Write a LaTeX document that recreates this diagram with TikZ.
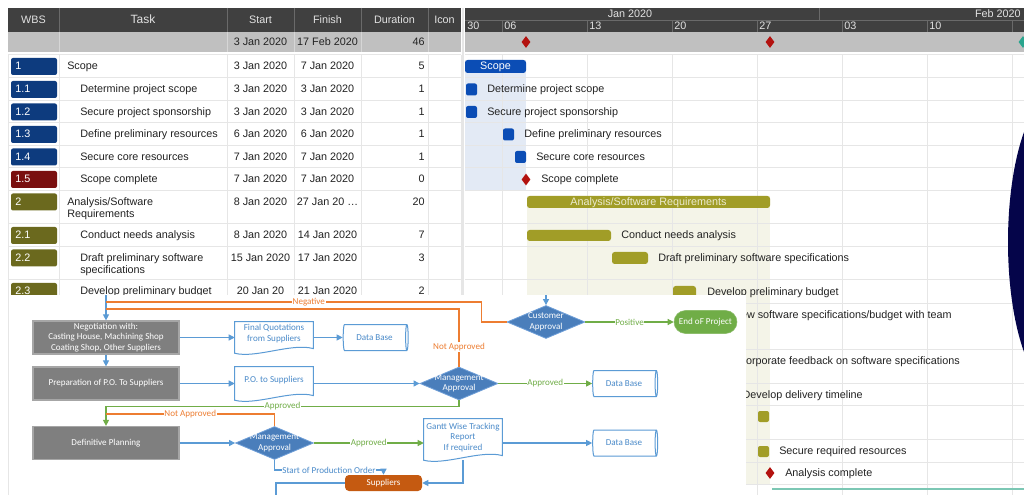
\documentclass[tikz,border=0pt]{standalone}
\usepackage{fontspec}
\setmainfont{Liberation Sans}
\newfontfamily\flowfont{Carlito}
\usetikzlibrary{shapes.geometric,arrows.meta}

\definecolor{hdrdark}{HTML}{404040}
\definecolor{hdrtext}{HTML}{E2E2E2}
\definecolor{hdrsep}{HTML}{6A6A6A}
\definecolor{sumgray}{HTML}{C0C0C0}
\definecolor{sumsep}{HTML}{D6D6D6}
\definecolor{gridgray}{HTML}{E6E6E6}
\definecolor{gtext}{HTML}{222222}
\definecolor{wbsblue}{HTML}{0D3B7E}
\definecolor{wbsred}{HTML}{7A0F0F}
\definecolor{wbsolive}{HTML}{6B691E}
\definecolor{scopebar}{HTML}{0B4DB5}
\definecolor{scopebg}{HTML}{E3EAF5}
\definecolor{anabar}{HTML}{A19D27}
\definecolor{anabg}{HTML}{F4F4E8}
\definecolor{anatext}{HTML}{ECEBD0}
\definecolor{msred}{HTML}{B3120F}
\definecolor{msteal}{HTML}{2AA58E}
\definecolor{navyblob}{HTML}{05054A}
\definecolor{tealline}{HTML}{7CC7B4}
\definecolor{procgray}{HTML}{7F7F7F}
\definecolor{procline}{HTML}{A6A6A6}
\definecolor{flowblue}{HTML}{5B9BD5}
\definecolor{flowtext}{HTML}{4A8AC9}
\definecolor{floworange}{HTML}{ED7D31}
\definecolor{flowgreen}{HTML}{70AD47}
\definecolor{diafill}{HTML}{4A7EBB}
\definecolor{dialine}{HTML}{6F9FD8}
\definecolor{supporange}{HTML}{C55A11}

% outline of a document shape round an empty node
\newcommand{\docoutline}[1]{%
  \filldraw[docline] (#1.south west) -- (#1.north west) -- (#1.north east) -- ([yshift=3.5pt]#1.south east)
    .. controls ([xshift=-16pt,yshift=8pt]#1.south east) and ([xshift=16pt,yshift=-4pt]#1.south west) .. (#1.south west) -- cycle;}

\begin{document}
\begin{tikzpicture}[x=0.75pt, y=-0.75pt,
    gtxt/.style={font=\fontsize{8.1}{9}\selectfont, text=gtext, inner sep=0pt, text height=5.9pt, text depth=1pt},
    htxt/.style={gtxt, text=hdrtext},
    gridl/.style={draw=gridgray, line width=0.75pt},
    mstone/.style={diamond, fill=msred, inner sep=0pt, minimum width=6.75pt, minimum height=9pt},
    fl/.style={font=\flowfont\fontsize{6.8}{7.9}\selectfont},
    proc/.style={fl, rectangle, draw=procline, fill=procgray, line width=0.9pt, text=white, align=center,
      minimum width=109.5pt, minimum height=24.75pt, inner sep=0pt},
    docbox/.style={rectangle, minimum width=58.5pt, minimum height=23.25pt, inner sep=0pt},
    docline/.style={draw=flowblue, fill=white, line width=0.75pt},
    doctext/.style={fl, text=flowtext, align=center},
    dbase/.style={fl, cylinder, draw=flowblue, fill=white, line width=0.75pt, text=flowtext, aspect=0.3,
      minimum width=19.5pt, minimum height=48.75pt, inner sep=1pt},
    decision/.style={diamond, draw=dialine, fill=diafill, line width=0.6pt, minimum width=58.5pt, minimum height=24.75pt, inner sep=0pt},
    dectext/.style={fl, text=white, align=center},
    endproj/.style={fl, rectangle, rounded corners=8.6pt, draw=flowgreen!80!white, fill=flowgreen, text=white,
      minimum width=47.25pt, minimum height=17.25pt, inner sep=0pt},
    supp/.style={fl, rectangle, rounded corners=3pt, fill=supporange, text=white, minimum width=57.75pt, minimum height=12pt, inner sep=0pt},
    arr/.style={-{Triangle[length=4.5pt,width=4.5pt]}},
    bluelink/.style={draw=flowblue, line width=0.8pt},
    greenlink/.style={draw=flowgreen, line width=0.8pt},
    orangelink/.style={draw=floworange, line width=0.8pt},
    glab/.style={fl, text=flowgreen, fill=white, inner sep=0.5pt},
    olab/.style={fl, text=floworange, fill=white, inner sep=0.5pt},
    blab/.style={fl, text=flowtext, fill=white, inner sep=0.5pt}]
  \useasboundingbox (0,0) rectangle (1024,495);
  \clip (0,0) rectangle (1024,495);
  \fill[white] (0,0) rectangle (1024,495);

  % table on the left
  \fill[hdrdark] (8,8) rectangle (461,32);
  \foreach \xx in {59,227,294,361,428}
    \draw[hdrsep] (\xx,8) -- (\xx,32);
  \node[htxt] at (33.5,20) {WBS};
  \node[htxt, font=\fontsize{9}{10}\selectfont] at (143,20) {Task};
  \node[htxt] at (260.5,20) {Start};
  \node[htxt] at (327.5,20) {Finish};
  \node[htxt] at (394.5,20) {Duration};
  \node[htxt] at (444.5,20) {Icon};
  \fill[sumgray] (8,32) rectangle (461,52);
  \foreach \xx in {59,227,294,361,428}
    \draw[sumsep] (\xx,32) -- (\xx,52);
  \node[gtxt] at (260.5,42) {3 Jan 2020};
  \node[gtxt] at (327.5,42) {17 Feb 2020};
  \node[gtxt, anchor=east] at (425,42) {46};
  \foreach \yy in {55,78,101,123,146,168,191,224,247,280,303}
    \draw[gridl] (8,\yy) -- (461,\yy);
  \foreach \xx in {8,59,227,294,361,428,461}
    \draw[gridl] (\xx,55) -- (\xx,495);
  \draw[draw=gridgray, line width=1.5pt] (463,8) -- (463,495);

  \foreach \yy/\wbs/\bc/\task/\tasktwo/\ix/\st/\fin/\dur in {
      66.5/1/wbsblue/Scope//67/3 Jan 2020/7 Jan 2020/5,
      89.5/1.1/wbsblue/Determine project scope//80/3 Jan 2020/3 Jan 2020/1,
      112/1.2/wbsblue/Secure project sponsorship//80/3 Jan 2020/3 Jan 2020/1,
      134.5/1.3/wbsblue/Define preliminary resources//80/6 Jan 2020/6 Jan 2020/1,
      157/1.4/wbsblue/Secure core resources//80/7 Jan 2020/7 Jan 2020/1,
      179.5/1.5/wbsred/Scope complete//80/7 Jan 2020/7 Jan 2020/0,
      202/2/wbsolive/Analysis{/}Software/Requirements/67/8 Jan 2020/27 Jan 20 …/20,
      235.5/2.1/wbsolive/Conduct needs analysis//80/8 Jan 2020/14 Jan 2020/7,
      258/2.2/wbsolive/Draft preliminary software/specifications/80/15 Jan 2020/17 Jan 2020/3,
      291.5/2.3/wbsolive/Develop preliminary budget//80/20 Jan 20/21 Jan 2020/2}
  {
    \fill[\bc, rounded corners=1.5pt] (11,\yy-8.5) rectangle (57,\yy+8.5);
    \node[gtxt, text=white, anchor=west] at (15,\yy) {\wbs};
    \node[gtxt, anchor=west] at (\ix,\yy) {\task};
    \node[gtxt, anchor=west] at (\ix,\yy+12) {\tasktwo};
    \node[gtxt] at (260.5,\yy) {\st};
    \node[gtxt] at (327.5,\yy) {\fin};
    \node[gtxt, anchor=east] at (425,\yy) {\dur};
  }

  % chart on the right
  \fill[hdrdark] (465,8) rectangle (1024,32);
  \draw[hdrsep] (465,20) -- (1024,20);
  \draw[hdrsep] (819,8) -- (819,20);
  \foreach \xx in {502,587,...,1012}
    \draw[hdrsep] (\xx,20) -- (\xx,32);
  \node[htxt] at (630,14) {Jan 2020};
  \node[htxt, anchor=east] at (1021,14) {Feb 2020};
  \foreach \xx/\wk in {465/30,502/06,587/13,672/20,757/27,842/03,927/10}
    \node[htxt, anchor=west] at (\xx+2,26) {\wk};
  \fill[sumgray] (465,32) rectangle (1024,52);
  \node[mstone] at (526,42) {};
  \node[mstone] at (770,42) {};
  \node[mstone, fill=msteal] at (1023,42) {};

  \fill[scopebg] (465,60) rectangle (526,191);
  \fill[anabg] (527,196) rectangle (770,484);
  \foreach \yy in {55,78,101,123,146,168,191,224,247,280,303,349,383,405,439,462,484}
    \draw[gridl] (465,\yy) -- (1024,\yy);
  \foreach \xx in {502,587,...,1012}
    \draw[gridl] (\xx,55) -- (\xx,495);

  \fill[scopebar, rounded corners=2pt] (465,60) rectangle (526,73);
  \node[gtxt, text=white] at (495.5,66.5) {Scope};
  \foreach \xa/\yy/\lbl in {465/89.5/Determine project scope, 465/112/Secure project sponsorship,
      502/134.5/Define preliminary resources, 514/157/Secure core resources}
  {
    \fill[scopebar, rounded corners=1.5pt] (\xa+1,\yy-6) rectangle (\xa+12,\yy+6);
    \node[gtxt, anchor=west] at (\xa+22,\yy) {\lbl};
  }
  \node[mstone] at (526,179.5) {};
  \node[gtxt, anchor=west] at (541,179.5) {Scope complete};

  \fill[anabar, rounded corners=2pt] (527,196) rectangle (770,208);
  \node[gtxt, text=anatext] at (648.5,202) {Analysis/Software Requirements};
  \fill[anabar, rounded corners=2pt] (527,230) rectangle (611,241);
  \node[gtxt, anchor=west] at (621,235.5) {Conduct needs analysis};
  \fill[anabar, rounded corners=2pt] (612,252) rectangle (648,264);
  \node[gtxt, anchor=west] at (658,258) {Draft preliminary software specifications};
  \fill[anabar, rounded corners=2pt] (673,286) rectangle (696,298);
  \node[gtxt, anchor=west] at (707,292) {Develop preliminary budget};
  \node[gtxt, anchor=east] at (952,315) {Review software specifications/budget with team};
  \node[gtxt, anchor=east] at (960,361) {Incorporate feedback on software specifications};
  \node[gtxt, anchor=east] at (863,395) {Develop delivery timeline};
  \fill[anabar, rounded corners=1.5pt] (758,411) rectangle (769,422);
  \fill[anabar, rounded corners=1.5pt] (758,446) rectangle (769,457);
  \node[gtxt, anchor=west] at (779,451.5) {Secure required resources};
  \node[mstone] at (770,473) {};
  \node[gtxt, anchor=west] at (785,473) {Analysis complete};
  \draw[tealline, line width=1.5pt] (772,488.5) -- (1024,488.5);
  \fill[navyblob] (1058,242) ellipse [x radius=37.5pt, y radius=112.5pt];

  % flowchart laid over the chart
  \fill[white] (9,295) rectangle (746,495);

  \node[proc] (nego) at (106,337.5) {Negotiation with:\\Casting House, Machining Shop\\Coating Shop, Other Suppliers};
  \node[proc] (prep) at (106,383.5) {Preparation of P.O. To Suppliers};
  \node[proc] (defplan) at (106,443) {Definitive Planning};

  \node[docbox] (quot) at (274,337.5) {};
  \node[docbox, minimum height=24.75pt] (podoc) at (274,383.5) {};
  \node[docbox, minimum height=30.75pt] (track) at (463,439.5) {};
  \docoutline{quot}
  \docoutline{podoc}
  \docoutline{track}
  \node[doctext, yshift=3pt] at (quot) {Final Quotations\\from Suppliers};
  \node[doctext, yshift=2.6pt] at (podoc) {P.O. to Suppliers};
  \node[doctext, yshift=1.5pt] at (track) {Gantt Wise Tracking\\Report\\If required};

  \node[dbase] (db1) at (374.5,337.5) {Data Base};
  \node[dbase] (db2) at (624,383.5) {Data Base};
  \node[dbase] (db3) at (624,443) {Data Base};

  \node[decision, label={[dectext]center:Management\\Approval}] (mgmt1) at (459,383.5) {};
  \node[decision, label={[dectext]center:Management\\Approval}] (mgmt2) at (274.5,443) {};
  \node[decision, label={[dectext]center:Customer\\Approval}] (cust) at (546,322) {};
  \node[endproj] (endp) at (705.5,322) {End oF Project};
  \node[supp] (supl) at (383.5,483) {Suppliers};

  \coordinate (negoin) at (106,295);
  \coordinate (custin) at (546,295);
  \coordinate (negback) at (106,302);
  \coordinate (noback1) at (106,309);
  \coordinate (noback2) at (106,414);
  \coordinate (prodorder) at (383.5,470);
  \coordinate (supout) at (276,495);

  \draw[bluelink, arr] (negoin) -- (nego.north);
  \draw[bluelink, arr] (custin) -- (cust.north);
  \draw[bluelink, arr] (nego.south) -- (prep.north);
  \draw[bluelink, arr] (nego.east) -- (quot.west);
  \draw[bluelink, arr] (quot.east) -- (db1.west);
  \draw[bluelink, arr] (prep.east) -- (podoc.west);
  \draw[bluelink, arr] (podoc.east) -- (mgmt1.west);
  \draw[bluelink, arr] (defplan.east) -- (mgmt2.west);
  \draw[bluelink, arr] (mgmt2.east -| track.east) -- (db3.west);
  \draw[bluelink, arr] (mgmt2.south) |- node[blab, pos=0.75] {Start of Production Order} (prodorder) -- (supl.north);
  \draw[bluelink, arr] (track.south) |- (supl.east);
  \draw[bluelink] (supl.west) -| (supout);

  \draw[greenlink, arr] (mgmt1.east) -- node[glab] {Approved} (db2.west);
  \draw[greenlink, arr] (mgmt1.south) -- ++(0,6) -| node[glab, pos=0.25] {Approved} (defplan.north);
  \draw[greenlink, arr] (mgmt2.east) -- node[glab] {Approved} (mgmt2.east -| track.west);
  \draw[greenlink, arr] (cust.east) -- node[glab] {Positive} (endp.west);

  \draw[orangelink] (cust.west) -- ++(-25,0) |- node[olab, pos=0.73] {Negative} (negback);
  \draw[orangelink] (mgmt1.north) |- node[olab, pos=0.17] {Not Approved} (noback1);
  \draw[orangelink] (mgmt2.north) |- node[olab, pos=0.75] {Not Approved} (noback2);
\end{tikzpicture}
\end{document}
